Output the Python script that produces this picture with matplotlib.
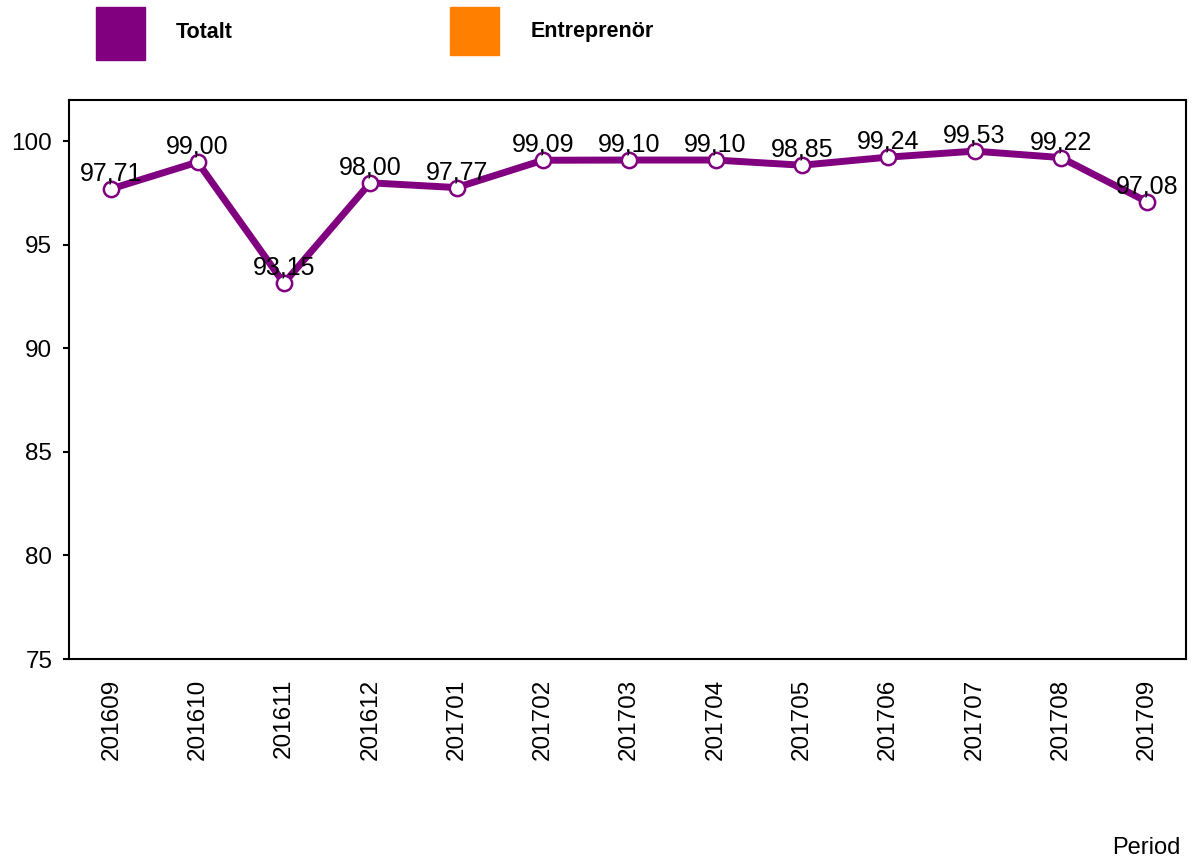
import matplotlib.pyplot as plt
from matplotlib.patches import Rectangle

periods = ["201609", "201610", "201611", "201612", "201701", "201702", "201703",
           "201704", "201705", "201706", "201707", "201708", "201709"]
totalt = [97.71, 99.00, 93.15, 98.00, 97.77, 99.09, 99.10, 99.10, 98.85,
          99.24, 99.53, 99.22, 97.08]
legend_names = ["Totalt", "Entreprenör"]
legend_colors = ["#800080", "#FF8000"]

plt.rcParams['font.family'] = ['Liberation Sans', 'DejaVu Sans']

fig = plt.figure(figsize=(11.94, 8.63), dpi=100)
ax = fig.add_axes([69/1194, 1-659/863, (1186-69)/1194, (659-100)/863])

x = list(range(len(periods)))
ax.plot(x, totalt, color="#800080", lw=5, marker="o", ms=11,
        mfc="white", mec="#800080", mew=1.8, zorder=3)
for xi, v in zip(x, totalt):
    ax.annotate(f"{v:.2f}".replace(".", ","), (xi, v), xytext=(0, 6),
                textcoords="offset points", ha="center", va="baseline",
                fontsize=18, zorder=4)

ax.set_xlim(-0.49, 12.45)
ax.set_ylim(75, 102)
ax.set_yticks([75, 80, 85, 90, 95, 100])
ax.set_xticks(x)
ax.set_xticklabels(periods, rotation=90)
ax.tick_params(axis="y", labelsize=17.5, length=4, width=1.5, pad=8)
ax.tick_params(axis="x", labelsize=17.5, length=0, pad=14)
for s in ax.spines.values():
    s.set_linewidth(1.5)

# legend
lx = [96, 450]
lh = [53, 48]
tx = [176, 531]
for i, (name, col) in enumerate(zip(legend_names, legend_colors)):
    fig.patches.append(Rectangle((lx[i]/1194, 1-(7+lh[i])/863), 49/1194, lh[i]/863,
                                 transform=fig.transFigure, color=col))
    fig.text(tx[i]/1194, 1-32/863, name, fontsize=15.5, fontweight="bold",
             va="center", ha="left")

fig.text(1180/1194, 1-848/863, "Period", fontsize=17, ha="right", va="center")

fig.savefig("out.png", dpi=100)
